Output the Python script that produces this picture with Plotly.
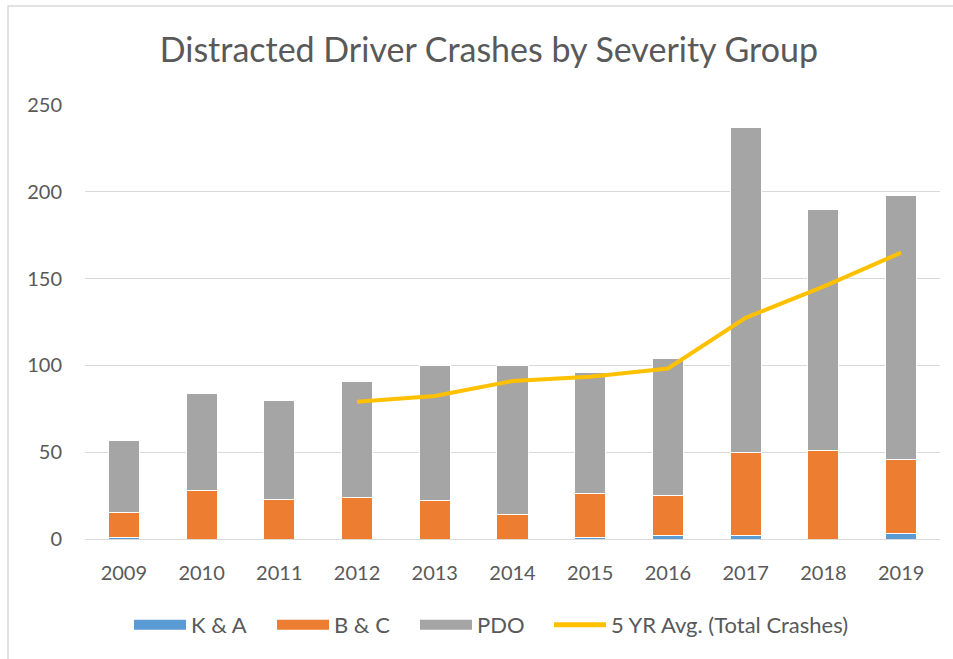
import plotly.graph_objects as go

years = ["2009", "2010", "2011", "2012", "2013", "2014", "2015", "2016", "2017", "2018", "2019"]
k_and_a = [1, 0, 0, 0, 0, 0, 1, 2, 2, 0, 3]
b_and_c = [14, 28, 23, 24, 22, 14, 25, 23, 48, 51, 43]
pdo = [42, 56, 57, 67, 78, 86, 70, 79, 187, 139, 152]
avg5 = [None, None, None, 79, 82.4, 91, 93.4, 98.2, 127.4, 145.4, 165]

series_names = ["K & A", "B & C", "PDO", "5 YR Avg. (Total Crashes)"]
colors = ["#5B9BD5", "#ED7D31", "#A5A5A5", "#FFC000"]

FONT = "Lato"
TXT = "#595959"

fig = go.Figure()
for vals, name, col in zip([k_and_a, b_and_c, pdo], series_names[:3], colors[:3]):
    fig.add_trace(go.Bar(x=years, y=vals, name=name, showlegend=False,
                         marker=dict(color=col, line=dict(color="white", width=1))))
fig.add_trace(go.Scatter(x=years, y=avg5, name=series_names[3], mode="lines", showlegend=False,
                         line=dict(color=colors[3], width=4), connectgaps=False))

# legend entries (wide rectangular swatches like the original)
for i, (name, col, w) in enumerate(zip(series_names, colors, [12, 12, 12, 5])):
    fig.add_trace(go.Scatter(x=[None], y=[None], name=name, mode="lines",
                             line=dict(color=col, width=w),
                             legend="legend" if i < 3 else "legend2"))

L, R, T, B = 85, 13, 105, 120
W, H = 953, 659
pw, ph = W - L - R, H - T - B

def px_x(x):
    return (x - L) / pw

def px_y(y):
    return (H - B - y) / ph

fig.update_layout(
    width=W, height=H,
    margin=dict(l=L, r=R, t=T, b=B),
    paper_bgcolor="white", plot_bgcolor="white",
    barmode="stack", bargap=0.6,
    font=dict(family=FONT, color=TXT, size=20),
    title=dict(text="Distracted Driver Crashes by Severity Group", x=0.513, xanchor="center",
               y=1 - 50 / H, yanchor="middle", font=dict(size=34, color=TXT, family=FONT)),
    legend=dict(orientation="h", x=px_x(129), xanchor="left", y=px_y(625), yanchor="middle",
                font=dict(size=22, color=TXT), traceorder="normal", itemwidth=52,
                entrywidthmode="pixels", entrywidth=76),
    legend2=dict(orientation="h", x=px_x(549), xanchor="left", y=px_y(625), yanchor="middle",
                 font=dict(size=22, color=TXT), itemwidth=52),
    xaxis=dict(showgrid=False, showline=False, ticks="", ticklabelstandoff=20,
               tickfont=dict(size=20, color=TXT)),
    yaxis=dict(range=[0, 250], tickvals=[0, 50, 100, 150, 200, 250], showgrid=True,
               gridcolor="#D9D9D9", gridwidth=1, zeroline=True, zerolinecolor="#D9D9D9",
               zerolinewidth=1, showline=False, ticks="", ticklabelstandoff=22,
               tickfont=dict(size=20, color=TXT)),
    shapes=[dict(type="rect", xref="paper", yref="paper",
                 x0=px_x(8), x1=px_x(W + 10), y0=px_y(H + 10), y1=px_y(6),
                 line=dict(color="#D9D9D9", width=1.5), fillcolor="rgba(0,0,0,0)", layer="below")],
)

fig.write_html("out.html", config={"displayModeBar": False},
               post_script="document.body.style.margin='0';document.body.style.overflow='hidden';")
